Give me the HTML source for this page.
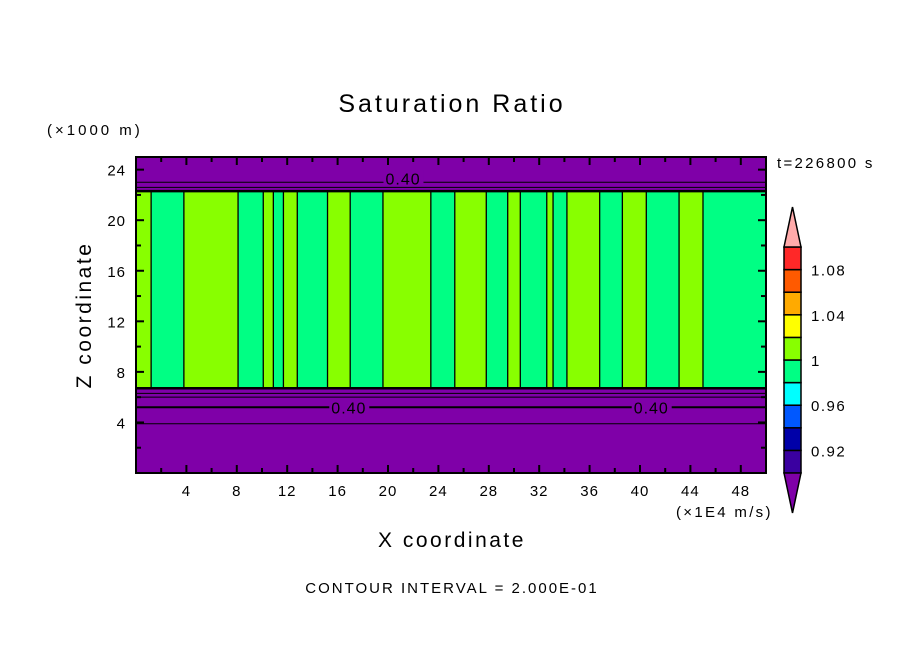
<!DOCTYPE html>
<html><head><meta charset="utf-8"><style>
html,body{margin:0;padding:0;background:#fff;}
svg{display:block;font-family:"Liberation Sans",sans-serif;}
</style></head><body>
<svg id="chart" width="904" height="654" viewBox="0 0 904 654" xmlns="http://www.w3.org/2000/svg">
<text x="452" y="112" font-size="25" letter-spacing="3" text-anchor="middle">Saturation Ratio</text>
<text x="47" y="135" font-size="15" letter-spacing="3">(×1000 m)</text>
<text x="777" y="168" font-size="15" letter-spacing="2.3">t=226800 s</text>
<text transform="translate(91,315) rotate(-90)" font-size="21" letter-spacing="2.5" text-anchor="middle">Z coordinate</text>
<text x="452" y="547" font-size="21" letter-spacing="2.5" text-anchor="middle">X coordinate</text>
<text x="676" y="517" font-size="15" letter-spacing="2.3">(×1E4 m/s)</text>
<text x="452" y="593" font-size="15" letter-spacing="2" text-anchor="middle">CONTOUR INTERVAL = 2.000E-01</text>
<g id="plot"></g>
<g id="cbar"></g>
</svg>
<script>
const xDomain = [0, 50];
const zDomain = [0, 25];
const xTicks = [4, 8, 12, 16, 20, 24, 28, 32, 36, 40, 44, 48];
const zTicks = [4, 8, 12, 16, 20, 24];
const segEdges = [0,1.2,3.8,8.1,10.1,10.9,11.7,12.8,15.2,17.0,19.6,23.4,25.3,27.8,29.5,30.5,32.6,33.1,34.2,36.8,38.6,40.5,43.1,45.0,50];
const segValues = [1.01,0.99,1.01,0.99,1.01,0.99,1.01,0.99,1.01,0.99,1.01,0.99,1.01,0.99,1.01,0.99,1.01,0.99,1.01,0.99,1.01,0.99,1.01,0.99];
const cloudTop = 22.3, cloudBase = 6.7;
const contourZ = [6.3, 6.0, 5.2, 3.9, 22.6, 23.0];
const cbLevels = [0.90,0.92,0.94,0.96,0.98,1.00,1.02,1.04,1.06,1.08,1.10];
const cbLabels = ["0.92","0.96","1","1.04","1.08"];
const cbLabelVals = [0.92,0.96,1.00,1.04,1.08];
const cbColors = ["#3a00a0","#0000a8","#0058ff","#00ffff","#00ff84","#88ff00","#ffff00","#ffaa00","#ff5a00","#ff2828"];
const NS="http://www.w3.org/2000/svg";
const L=136,R=766,T=157,B=473;
const sx=v=>L+(v-xDomain[0])/(xDomain[1]-xDomain[0])*(R-L);
const sz=v=>B-(v-zDomain[0])/(zDomain[1]-zDomain[0])*(B-T);
function el(tag,attrs,parent){const e=document.createElementNS(NS,tag);for(const k in attrs)e.setAttribute(k,attrs[k]);parent.appendChild(e);return e;}
function colorFor(v){for(let i=0;i<cbColors.length;i++){if(v<cbLevels[i+1])return cbColors[i];}return "#ffaaaa";}
const plot=document.getElementById('plot');
let bg=el('rect',{x:L,y:T,width:R-L,height:B-T,fill:'#7f00a8'},plot);


for(let i=0;i<segValues.length;i++){
  const r=el('rect',{x:sx(segEdges[i]),y:sz(cloudTop),width:sx(segEdges[i+1])-sx(segEdges[i]),height:sz(cloudBase)-sz(cloudTop),fill:colorFor(segValues[i])},plot);
  
  
  if(i>0){
    const ln=el('line',{x1:sx(segEdges[i]),x2:sx(segEdges[i]),y1:sz(cloudTop),y2:sz(cloudBase),stroke:'#000','stroke-width':1.3},plot);
    
    
  }
}
[cloudTop,cloudBase].forEach(z=>{
  const ln=el('line',{x1:L,x2:R,y1:sz(z),y2:sz(z),stroke:'#000','stroke-width':2.5},plot);
  
  
});
contourZ.forEach((z,i)=>{
  const ln=el('line',{x1:L,x2:R,y1:sz(z),y2:sz(z),stroke:'#000','stroke-width':i==2?2:1},plot);
  
  
});
[[15.5,5.2],[39.5,5.2],[19.8,23.3]].forEach(p=>{
  const r=el('rect',{x:sx(p[0])-2,y:sz(p[1])-8,width:40,height:15,fill:'#7f00a8'},plot);
  
  
  const t=el('text',{x:sx(p[0]),y:sz(p[1])+6,'font-size':16,'letter-spacing':1},plot);
  t.textContent='0.40';
  
  
});
let fr=el('rect',{x:L,y:T,width:R-L,height:B-T,fill:'none',stroke:'#000','stroke-width':2},plot);


for(let v=2;v<50;v+=2){
  const len=v%4==0?8:5;
  const a=el('line',{x1:sx(v),x2:sx(v),y1:B,y2:B-len,stroke:'#000','stroke-width':2},plot);
  
  
  const b=el('line',{x1:sx(v),x2:sx(v),y1:T,y2:T+len,stroke:'#000','stroke-width':2},plot);
  
  
}
for(let v=2;v<25;v+=2){
  const len=v%4==0?8:5;
  const a=el('line',{x1:L,x2:L+len,y1:sz(v),y2:sz(v),stroke:'#000','stroke-width':2},plot);
  
  
  const b=el('line',{x1:R,x2:R-len,y1:sz(v),y2:sz(v),stroke:'#000','stroke-width':2},plot);
  
  
}
xTicks.forEach(v=>{
  const t=el('text',{x:sx(v),y:B+23,'font-size':15,'letter-spacing':1,'text-anchor':'middle'},plot);
  t.textContent=String(v);
  
  
});
zTicks.forEach(v=>{
  const t=el('text',{x:L-10,y:sz(v)+6,'font-size':15,'letter-spacing':1,'text-anchor':'end'},plot);
  t.textContent=String(v);
  
  
});
const cb=document.getElementById('cbar');
const cL=784,cR=801,cT=247,cB=473;
const cy=v=>cB-(v-cbLevels[0])/(cbLevels[cbLevels.length-1]-cbLevels[0])*(cB-cT);
for(let i=0;i<cbColors.length;i++){
  const r=el('rect',{x:cL,y:cy(cbLevels[i+1]),width:cR-cL,height:cy(cbLevels[i])-cy(cbLevels[i+1]),fill:cbColors[i],stroke:'#000','stroke-width':1.5},cb);
  
  
}
let up=el('polygon',{points:`${cL},${cT} ${cR},${cT} ${(cL+cR)/2},207`,fill:'#ffaaaa',stroke:'#000','stroke-width':1.5},cb);


let dn=el('polygon',{points:`${cL},${cB} ${cR},${cB} ${(cL+cR)/2},513`,fill:'#7f00a8',stroke:'#000','stroke-width':1.5},cb);


cbLabelVals.forEach((v,i)=>{
  const t=el('text',{x:811,y:cy(v)+6,'font-size':15,'letter-spacing':1.5},cb);
  t.textContent=cbLabels[i];
  
  
});
</script>
</body></html>
